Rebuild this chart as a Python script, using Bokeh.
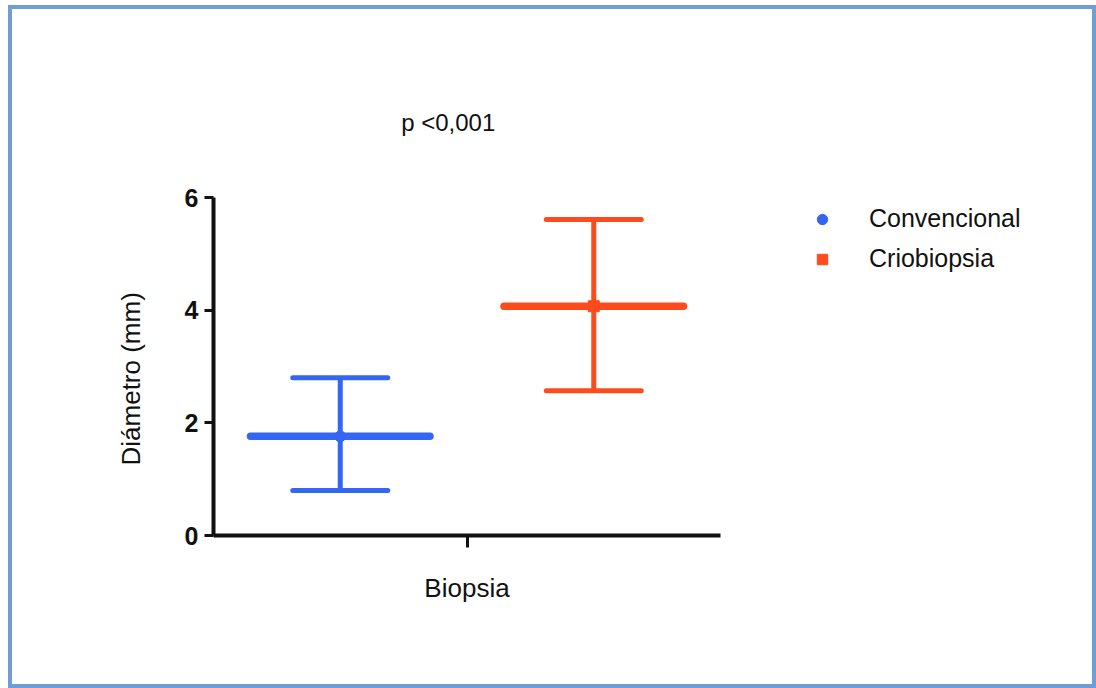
from bokeh.plotting import figure
from bokeh.models import (Range1d, FixedTicker, Whisker, TeeHead, ColumnDataSource,
                          Legend, LegendItem, Label, Title)
from bokeh.embed import file_html
from bokeh.resources import INLINE

# ---- data ----
groups = ["Convencional", "Criobiopsia"]
positions = [0.25, 0.75]
means = [1.76, 4.07]
lowers = [0.80, 2.57]
uppers = [2.80, 5.61]
colors = ["#3466f4", "#fc4b1c"]
markers = ["circle", "square"]
y_ticks = [0, 2, 4, 6]
x_ticks = [0.5]
x_title = "Biopsia"
y_title = "Diámetro (mm)"
p_text = "p <0,001"

FONT = "Liberation Sans"
INK = "#111111"

# frame extends to the right/top so that legend and note are inside it;
# the axes themselves are bounded to the data region (x 0..1, y 0..6)
p = figure(width=1088, height=683, output_backend="svg", toolbar_location=None,
           x_range=Range1d(0, 1.710), y_range=Range1d(0, 7.722),
           min_border_left=201, min_border_top=91, min_border_right=20,
           min_border_bottom=157)
p.styles = {"border": "4px solid #6e9ed3", "margin-left": "8px", "margin-top": "5px"}
p.outline_line_color = None
p.xgrid.visible = False
p.ygrid.visible = False
p.background_fill_color = "white"
p.border_fill_color = "white"

# axes
for ax in (p.xaxis, p.yaxis):
    ax.axis_line_width = 4
    ax.axis_line_color = INK
    ax.major_tick_line_width = 3
    ax.major_tick_line_color = INK
    ax.major_tick_in = 0
    ax.minor_tick_line_color = None
    ax.major_label_text_font = FONT
    ax.major_label_text_color = INK

p.yaxis.bounds = (0, 6)
p.yaxis.ticker = FixedTicker(ticks=y_ticks)
p.yaxis.major_tick_out = 9
p.yaxis.major_label_text_font_style = "bold"
p.yaxis.major_label_text_font_size = "25px"
p.yaxis.major_label_standoff = 6

# x: single tick; its label is the axis title
p.xaxis.bounds = (0, 1)
p.xaxis.ticker = FixedTicker(ticks=x_ticks)
p.xaxis.major_tick_out = 12
p.xaxis.major_label_overrides = {x_ticks[0]: x_title}
p.xaxis.major_label_text_font_size = "26px"
p.xaxis.major_label_standoff = 25

# y title as a left-side title, aligned to the data part of the axis
p.add_layout(Title(text=y_title, align="left", offset=70, standoff=71,
                   text_font=FONT, text_font_size="26px", text_font_style="normal",
                   text_color=INK), "left")

# error bars
mean_half = 0.177
legend_items = []
for g, xpos, m, lo, hi, c, mk in zip(groups, positions, means, lowers, uppers, colors, markers):
    src = ColumnDataSource(dict(base=[xpos], lower=[lo], upper=[hi], mean=[m],
                                x0=[xpos - mean_half], x1=[xpos + mean_half]))
    w = Whisker(source=src, base="base", lower="lower", upper="upper", dimension="height",
                line_color=c, line_width=5,
                upper_head=TeeHead(size=95, line_color=c, line_width=5, line_cap="round"),
                lower_head=TeeHead(size=95, line_color=c, line_width=5, line_cap="round"))
    p.add_layout(w)
    p.segment(x0="x0", y0="mean", x1="x1", y1="mean", source=src,
              line_color=c, line_width=7.5, line_cap="round")
    r = p.scatter(x="base", y="mean", source=src, marker=mk, size=11,
                  fill_color=c, line_color=c)
    legend_items.append(LegendItem(label=g, renderers=[r]))

legend = Legend(items=legend_items, location=(596, 262), orientation="vertical",
                glyph_width=26, glyph_height=26, label_height=26, spacing=11,
                label_standoff=34, padding=0, margin=0,
                border_line_color=None, background_fill_alpha=0,
                label_text_font=FONT, label_text_font_size="25px",
                label_text_color=INK)
p.add_layout(legend, "center")

p.add_layout(Label(x=0.463, y=7.33, text=p_text, text_align="center",
                   text_baseline="middle", text_font=FONT, text_font_size="24px",
                   text_color=INK))

open("out.html", "w").write(file_html(p, INLINE))
